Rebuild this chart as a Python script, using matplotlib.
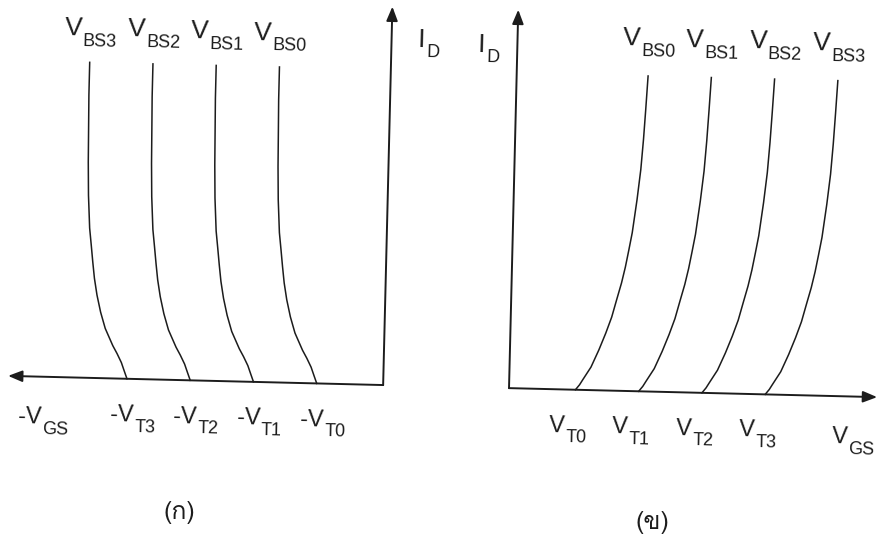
import matplotlib
matplotlib.use('Agg')
import numpy as np
import matplotlib.pyplot as plt
import matplotlib.transforms as mtransforms
from matplotlib import font_manager
from matplotlib.ft2font import FT2Font

# threshold voltage for each body bias (V)
v_t = [1.05, 2.05, 3.05, 4.05]
bs_tags = ['BS0', 'BS1', 'BS2', 'BS3']
vt_tags = ['T0', 'T1', 'T2', 'T3']

# p-channel curve above threshold: overdrive (V) vs normalised I_D
p_dv = [0.0, 0.047, 0.095, 0.166, 0.237, 0.363, 0.442, 0.506, 0.553, 0.585,
        0.616, 0.648, 0.679, 0.695, 0.703, 0.711, 0.711]
p_id = [0.0, 0.025, 0.051, 0.079, 0.104, 0.158, 0.209, 0.263, 0.316, 0.367,
        0.421, 0.475, 0.579, 0.684, 0.791, 0.896, 1.0]

# n-channel curve above threshold
n_dv = [0.0, 0.063, 0.111, 0.237, 0.355, 0.458, 0.545, 0.616, 0.687, 0.742,
        0.790, 0.837, 0.900, 0.948, 0.979, 1.003, 1.027]
n_id = [0.0, 0.016, 0.032, 0.073, 0.128, 0.182, 0.233, 0.288, 0.342, 0.393,
        0.447, 0.502, 0.607, 0.703, 0.799, 0.895, 1.0]

captions = ['(ก)', '(ข)']

INK = '#1c1c1c'
TILT = -1.4
LATIN = 'Liberation Sans'


def thai_family():
    for f in font_manager.fontManager.ttflist:
        try:
            if ord('ก') in FT2Font(f.fname).get_charmap():
                return f.name
        except Exception:
            pass
    return 'DejaVu Sans'


def label(ax, tr, x, y, main, sub, size=19, subsize=13):
    t = ax.text(x, y, main, fontsize=size, family=LATIN, color=INK,
                ha='left', va='baseline', transform=tr,
                rotation=TILT, rotation_mode='anchor')
    ax.annotate(sub, xy=(1, 0), xycoords=t, xytext=(0.3, -3.8),
                textcoords='offset points', fontsize=subsize, family=LATIN,
                color=INK, ha='left', va='baseline', rotation=TILT,
                rotation_mode='anchor')


def arrow(ax, tr, start, end):
    ax.annotate('', xy=end, xytext=start, xycoords=tr, textcoords=tr,
                arrowprops=dict(arrowstyle='-|>,head_length=0.5,head_width=0.2',
                                lw=1.4, color=INK, mutation_scale=17,
                                shrinkA=0, shrinkB=0))


fig = plt.figure(figsize=(8.82, 5.41), dpi=100)
tilt = mtransforms.Affine2D().rotate_deg_around(441, 270.5, TILT)

ax_p = fig.add_axes([0, 0, 0.5, 1])
ax_n = fig.add_axes([0.5, 0, 0.5, 1])
ax_p.set_xlim(-6.1, 0.87)
ax_n.set_xlim(-1.12, 5.85)
for ax in (ax_p, ax_n):
    ax.set_ylim(-0.49, 1.225)
    ax.axis('off')

# (a) p-channel: drawn against -V_GS
tr = ax_p.transData + tilt
arrow(ax_p, tr, (0, 0), (-5.93, 0))
arrow(ax_p, tr, (0, 0), (0, 1.2))
for vt, bs, tt in zip(v_t, bs_tags, vt_tags):
    ax_p.plot(-(vt + np.array(p_dv)), p_id, color=INK, lw=1.1,
              transform=tr, clip_on=False)
    label(ax_p, tr, -(vt + p_dv[-1]) - 0.41, 1.085, 'V', bs)
    label(ax_p, tr, -vt - 0.25, -0.135, '-V', tt, 17)
label(ax_p, tr, -5.76, -0.148, '-V', 'GS', 17)
label(ax_p, tr, 0.42, 1.074, 'I', 'D')

# (b) n-channel
tr = ax_n.transData + tilt
arrow(ax_n, tr, (0, 0), (5.82, 0))
arrow(ax_n, tr, (0, 0), (0, 1.2))
for vt, bs, tt in zip(v_t, bs_tags, vt_tags):
    ax_n.plot(vt + np.array(n_dv), n_id, color=INK, lw=1.1,
              transform=tr, clip_on=False)
    label(ax_n, tr, vt + n_dv[-1] - 0.41, 1.095, 'V', bs)
    label(ax_n, tr, vt - 0.40, -0.135, 'V', tt, 17)
label(ax_n, tr, 5.12, -0.15, 'V', 'GS', 17)
label(ax_n, tr, -0.62, 1.063, 'I', 'D')

thai = thai_family()
fig.text(179 / 882, 1 - 513 / 541, captions[0], fontsize=18, color=INK,
         family=[thai, 'DejaVu Sans'], ha='center', va='center')
fig.text(652 / 882, 1 - 523 / 541, captions[1], fontsize=18, color=INK,
         family=[thai, 'DejaVu Sans'], ha='center', va='center')

fig.savefig('out.png', dpi=100, facecolor='white')
